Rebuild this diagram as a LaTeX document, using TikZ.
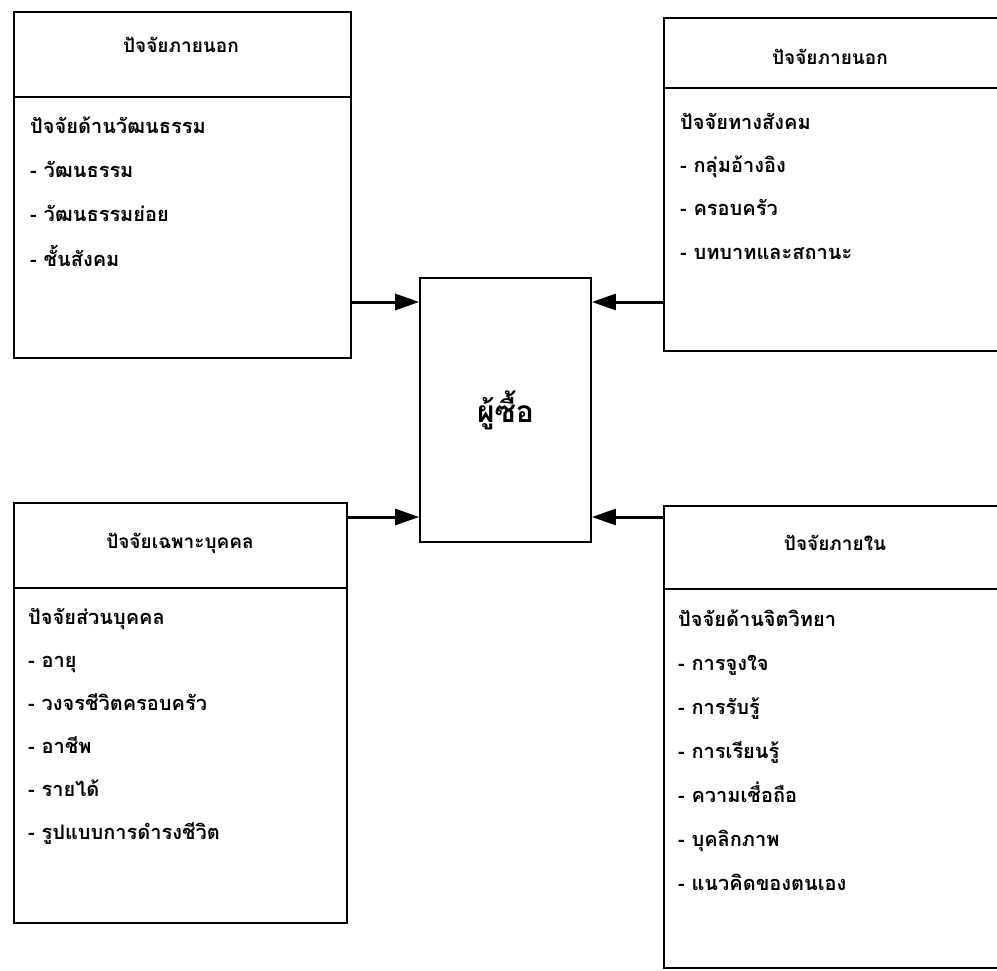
\documentclass[tikz,border=0pt]{standalone}
\usepackage{fontspec}
\newfontfamily\thaifont[Script=Thai]{Loma}
\usetikzlibrary{arrows.meta,positioning}

\begin{document}
\begin{tikzpicture}[
    x=1pt, y=-1pt,
    panel/.style={draw, line width=1.8pt, anchor=north west, inner sep=0pt},
    divider/.style={line width=1.5pt},
    head/.style={font=\thaifont\bfseries\fontsize{19}{24}\selectfont},
    item/.style={font=\thaifont\bfseries\fontsize{20}{24}\selectfont, anchor=base west, inner sep=0pt},
    arrow/.style={-{Triangle[length=24pt,width=16pt]}, line width=3pt}
]
    \useasboundingbox (0,0) rectangle (997,971);

    % Buyer in the middle
    \node[draw, line width=1.8pt, minimum width=171pt, minimum height=264pt,
          font=\thaifont\bfseries\fontsize{30}{36}\selectfont] (buyer) at (505.5,410) {ผู้ซื้อ};

    % Panels
    \node[panel, minimum width=337pt, minimum height=346pt] (cult) at (13,11) {};
    \node[panel, minimum width=336pt, minimum height=333pt] (soc)  at (663,17) {};
    \node[panel, minimum width=333pt, minimum height=420pt] (pers) at (13,502) {};
    \node[panel, minimum width=336pt, minimum height=462pt] (psy)  at (663,505) {};

    % Header lines
    \draw[divider] (cult.west |- 0,97)  -- (cult.east |- 0,97);
    \draw[divider] (soc.west |- 0,88)   -- (soc.east |- 0,88);
    \draw[divider] (pers.west |- 0,588) -- (pers.east |- 0,588);
    \draw[divider] (psy.west |- 0,589)  -- (psy.east |- 0,589);

    % Headers
    \node[head] (cult-h) at (181,45)  {ปัจจัยภายนอก};
    \node[head] (soc-h)  at (830,57)  {ปัจจัยภายนอก};
    \node[head] (pers-h) at (180,543) {ปัจจัยเฉพาะบุคคล};
    \node[head] (psy-h)  at (835,543) {ปัจจัยภายใน};

    % Lists
    \foreach \t [count=\i from 0] in {ปัจจัยด้านวัฒนธรรม, - วัฒนธรรม, - วัฒนธรรมย่อย, - ชั้นสังคม}
        \node[item] (cult-\i) at (30,134+44*\i) {\t};
    \foreach \t [count=\i from 0] in {ปัจจัยทางสังคม, - กลุ่มอ้างอิง, - ครอบครัว, - บทบาทและสถานะ}
        \node[item] (soc-\i) at (680,130+43*\i) {\t};
    \foreach \t [count=\i from 0] in {ปัจจัยส่วนบุคคล, - อายุ, - วงจรชีวิตครอบครัว, - อาชีพ, - รายได้, - รูปแบบการดำรงชีวิต}
        \node[item] (pers-\i) at (28,624+43*\i) {\t};
    \foreach \t [count=\i from 0] in {ปัจจัยด้านจิตวิทยา, - การจูงใจ, - การรับรู้, - การเรียนรู้, - ความเชื่อถือ, - บุคลิกภาพ, - แนวคิดของตนเอง}
        \node[item] (psy-\i) at (678,626+44*\i) {\t};

    % Arrows into the buyer
    \draw[arrow] (cult.east |- 0,302) -- (buyer.west |- 0,302);
    \draw[arrow] (soc.west |- 0,302)  -- (buyer.east |- 0,302);
    \draw[arrow] (pers.east |- 0,517) -- (buyer.west |- 0,517);
    \draw[arrow] (psy.west |- 0,517)  -- (buyer.east |- 0,517);

\end{tikzpicture}
\end{document}
